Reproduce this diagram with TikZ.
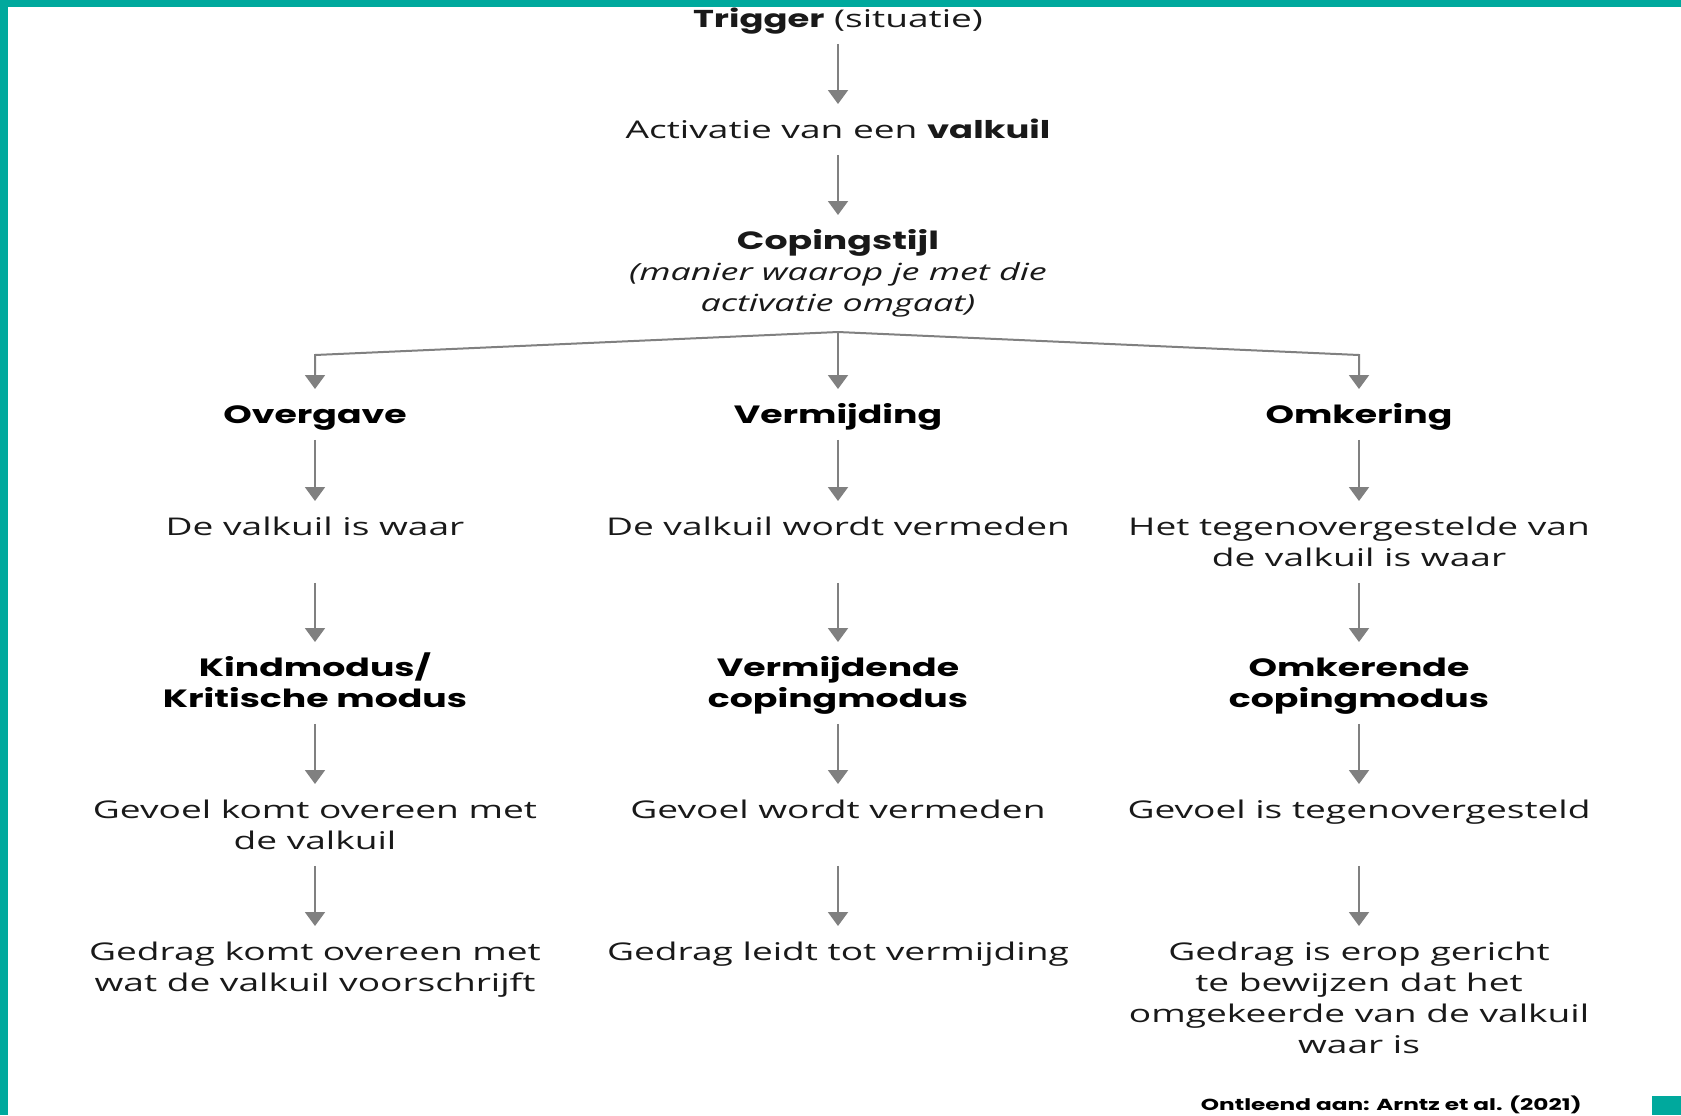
\documentclass[tikz,border=0pt]{standalone}
\usepackage{fontspec}
\setmainfont{Open Sans}[FakeStretch=1.52]
\newfontfamily\kopfont{Poppins}[FakeStretch=1.45]
\usetikzlibrary{arrows.meta,positioning}
\definecolor{balk}{RGB}{0,169,157}
\definecolor{pijlgrijs}{RGB}{128,128,128}
\definecolor{inkt}{RGB}{25,25,25}
\newcommand{\vet}[1]{{\kopfont\bfseries #1}}
% fixed-height block, text at the top
\newcommand{\cel}[2]{\parbox[t][#1\baselineskip][t]{250pt}{\centering\strut #2}}
\tikzset{
  every picture/.style = {
    x = 0.5pt,
    y = -0.5pt,
  }
  ,
  tekst/.style = {
    anchor = north,
    inner sep = 0pt,
    text = inkt,
    font = \fontsize{12.2pt}{15.5pt}\selectfont
  }
  , % headings of the three styles
  kop/.style = {
    tekst,
    text = black,
    font = \fontsize{12.5pt}{15.5pt}\selectfont\kopfont\bfseries
  }
  , % arrows
  pijl/.style = {
    draw = pijlgrijs,
    line width = 1pt,
    -{Triangle[width=10pt,length=7pt]},
    shorten < = 3.5pt,
    shorten > = 6pt
  }
}
\begin{document}
\begin{tikzpicture}
\useasboundingbox (0,0) rectangle (1681,1115);
\fill[balk] (0,0) rectangle (1681,7);
\fill[balk] (0,0) rectangle (8,1115);
\fill[balk] (1652,1096) rectangle (1681,1115);

\node[tekst] (trig) at (838,5) {\cel{1}{\vet{Trigger} (situatie)}};
\node[tekst] (act) at (838,116) {\cel{1}{Activatie van een \vet{valkuil}}};
\node[tekst] (cop) at (838,227) {\cel{3}{{\fontsize{12.5pt}{15.5pt}\selectfont\vet{Copingstijl}}\\ \fontsize{11.8pt}{15.5pt}\selectfont\itshape (manier waarop je met die\\ activatie omgaat)}};

\node[kop] (ov) at (315,401) {\cel{1}{Overgave}};
\node[kop] (vm) at (838,401) {\cel{1}{Vermijding}};
\node[kop] (om) at (1359,401) {\cel{1}{Omkering}};

\node[tekst] (ov1) at (315,513) {\cel{2}{De valkuil is waar}};
\node[tekst] (vm1) at (838,513) {\cel{2}{De valkuil wordt vermeden}};
\node[tekst] (om1) at (1359,513) {\cel{2}{Het tegenovergestelde van\\ de valkuil is waar}};

\node[kop] (ov2) at (315,654) {\cel{2}{Kindmodus\smash{/}\\ Kritische modus}};
\node[kop] (vm2) at (838,654) {\cel{2}{Vermijdende\\ copingmodus}};
\node[kop] (om2) at (1359,654) {\cel{2}{Omkerende\\ copingmodus}};

\node[tekst] (ov3) at (315,796) {\cel{2}{Gevoel komt overeen met\\ de valkuil}};
\node[tekst] (vm3) at (838,796) {\cel{2}{Gevoel wordt vermeden}};
\node[tekst] (om3) at (1359,796) {\cel{2}{Gevoel is tegenovergesteld}};

\node[tekst] (ov4) at (315,938) {\cel{4}{Gedrag komt overeen met\\ wat de valkuil voorschrijft}};
\node[tekst] (vm4) at (838,938) {\cel{4}{Gedrag leidt tot vermijding}};
\node[tekst] (om4) at (1359,938) {\cel{4}{Gedrag is erop gericht\\ te bewijzen dat het\\ omgekeerde van de valkuil\\ waar is}};

\node[anchor=base east, inner sep=0pt, font=\fontsize{8pt}{10pt}\selectfont\kopfont\bfseries] (bron) at (1582,1110) {Ontleend aan: Arntz et al. (2021)};

\draw[pijl] (trig) -- (act);
\draw[pijl] (act) -- (cop);

% split under the coping style
\coordinate (split) at (838,332);
\coordinate (hoekL) at (315,355);
\coordinate (hoekR) at (1359,355);
\draw[pijl, shorten < = 0pt] (split) -- (hoekL) -- (ov);
\draw[pijl, shorten < = 0pt] (split) -- (vm);
\draw[pijl, shorten < = 0pt] (split) -- (hoekR) -- (om);

\foreach \k in {ov,vm,om}{
  \draw[pijl] (\k) -- (\k1);
  \draw[pijl] (\k1) -- (\k2);
  \draw[pijl] (\k2) -- (\k3);
  \draw[pijl] (\k3) -- (\k4);
}
\end{tikzpicture}
\end{document}
